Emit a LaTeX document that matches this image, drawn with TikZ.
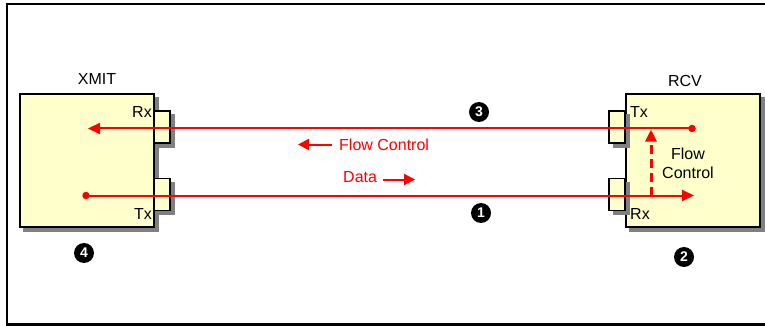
\documentclass[tikz,border=0pt]{standalone}
\usepackage{fontspec}
\setmainfont{Liberation Sans}
\usetikzlibrary{arrows.meta}
\definecolor{boxfill}{RGB}{255,255,204}
\definecolor{shadowgray}{RGB}{128,128,128}
\definecolor{sigred}{RGB}{255,0,0}
\tikzset{
  unitbox/.style={draw=black, line width=2pt, fill=boxfill, minimum width=134pt, minimum height=133pt, inner sep=0pt},
  unitshadow/.style={fill=shadowgray, draw=none, minimum width=136pt, minimum height=135pt, inner sep=0pt},
  portbox/.style={draw=black, line width=1.6pt, fill=boxfill, minimum width=16pt, minimum height=32pt, inner sep=0pt},
  portshadow/.style={fill=shadowgray, draw=none, minimum width=17pt, minimum height=33pt, inner sep=0pt},
  txt/.style={font=\fontsize{16}{19}\selectfont, inner sep=0pt},
  redtxt/.style={txt, text=sigred},
  sig/.style={draw=sigred, line width=2pt},
  bigtip/.style={-{Triangle[length=12pt,width=11pt]}},
  smalltip/.style={-{Triangle[length=11pt,width=11pt]}},
  dotend/.style={fill=sigred, draw=none, circle, minimum size=7.5pt, inner sep=0pt},
  numdisc/.style={circle, fill=black, text=white, minimum size=20pt, inner sep=0pt, font=\bfseries\fontsize{14}{14}\selectfont},
}
\begin{document}
\begin{tikzpicture}[x=1pt,y=-1pt]
\useasboundingbox (0,0) rectangle (765,326);
% frame
\draw[line width=2.2pt] (770,4) -- (7,4) -- (7,324.5) -- (770,324.5);

% shadows of units
\node[unitshadow] (xmitsh) at (91,164.5) {};
\node[unitshadow] (rcvsh) at (697,164.5) {};
% units
\node[unitbox] (xmit) at (87,160.5) {};
\node[unitbox] (rcv) at (693,160.5) {};

% ports shadows
\node[portshadow] (xrxsh) at (166,131) {};
\node[portshadow] (xtxsh) at (166,198.5) {};
\node[portshadow] (rtxsh) at (621,131) {};
\node[portshadow] (rrxsh) at (621,198.5) {};
% ports
\node[portbox] (xrx) at (162,127) {};
\node[portbox] (xtx) at (162,194.5) {};
\node[portbox] (rtx) at (617,127) {};
\node[portbox] (rrx) at (617,194.5) {};

% labels
\node[txt] (xmitlbl) at (97,79) {XMIT};
\node[txt] (rcvlbl) at (685,81) {RCV};
\node[txt, anchor=east] (xrxlbl) at (152,112) {Rx};
\node[txt, anchor=east] (xtxlbl) at (152,214) {Tx};
\node[txt, anchor=west] (rtxlbl) at (630,112) {Tx};
\node[txt, anchor=west] (rrxlbl) at (630,214) {Rx};
\node[txt, align=center] (rcvfc) at (688,163.5) {Flow\\Control};

% signal endpoints
\node[dotend] (rcvdot) at (692,128.5) {};
\node[dotend] (xmitdot) at (86,195.5) {};
\coordinate (xmitin) at (88,128.5);
\coordinate (rcvin) at (694,195.5);
\coordinate (fcbase) at (651,195.5);
\coordinate (fctip) at (651,129.5);

\draw[sig, bigtip] (rcvdot.center) -- (xmitin);
\draw[sig, bigtip] (xmitdot.center) -- (rcvin);
\draw[draw=sigred, line width=3pt, dash pattern=on 9pt off 5pt, bigtip] (fcbase) -- (fctip);

% middle labels
\node[redtxt, anchor=west] (fclbl) at (339,145) {Flow Control};
\node[redtxt, anchor=west] (datalbl) at (343,177) {Data};
\coordinate (fcarrs) at (332,144.5);
\coordinate (fcarre) at (298,144.5);
\coordinate (dtarrs) at (383,179.5);
\coordinate (dtarre) at (415,179.5);
\draw[sig, smalltip] (fcarrs) -- (fcarre);
\draw[sig, smalltip] (dtarrs) -- (dtarre);

% numbers
\node[numdisc] (n3) at (479,112) {3};
\node[numdisc] (n1) at (481,213) {1};
\node[numdisc] (n4) at (84,253) {4};
\node[numdisc] (n2) at (684,257) {2};
\end{tikzpicture}
\end{document}
